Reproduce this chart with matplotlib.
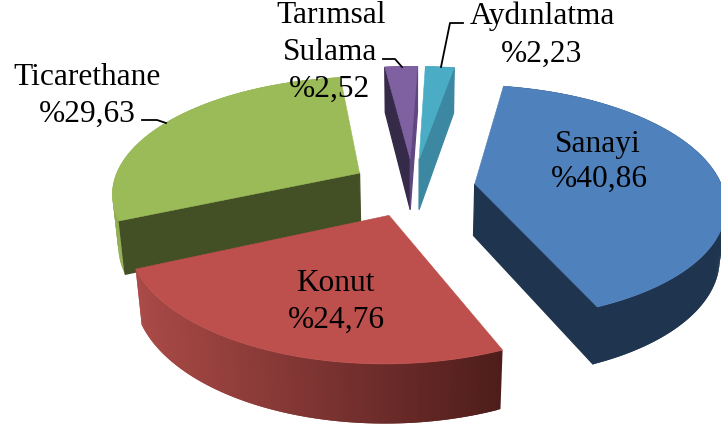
import numpy as np
import matplotlib
matplotlib.use("Agg")
import matplotlib.pyplot as plt
from matplotlib.colors import to_rgb

# ---- data ----
categories = ["Sanayi", "Konut", "Ticarethane", "Tarımsal\nSulama", "Aydınlatma"]
values = [40.86, 24.76, 29.63, 2.52, 2.23]
value_labels = ["%40,86", "%24,76", "%29,63", "%2,52", "%2,23"]

# ---- styles: top, wall, rim (left/right ends of a horizontal shade) ----
top_colors = ["#4f81bd", "#bd4f4c", "#9bbb59", "#7f60a1", "#4bacc6"]
wall_start = ["#1f344e", "#7a2f2d", "#434f25", "#352a48", "#3c87a1"]
wall_end = ["#1f344e", "#7a2f2d", "#434f25", "#5f4780", "#3c87a1"]
rim_left = ["#1f344e", "#aa4a47", "#92ae55", "#5f4780", "#3c87a1"]
rim_right = ["#1f344e", "#4e1d1b", "#8aa650", "#5f4780", "#3c87a1"]

# ---- 3D pie camera ----
X0, Y0, F, EL, D, H, EXPL, ROT = (412.906, 187.214, 1398.674, 0.48516,
                                  5.64992, 0.24112, 0.25252, 0.17385)
CAM_X, CAM_Y = 0.0, D * np.cos(EL)


def project(X, Y, Z):
    up = Z * np.cos(EL) - Y * np.sin(EL)
    depth = D - (Y * np.cos(EL) + Z * np.sin(EL))
    return X0 + F * X / depth, Y0 - F * up / depth


fig = plt.figure(figsize=(7.21, 4.29), dpi=100)
ax = fig.add_axes([0, 0, 1, 1])
ax.set_xlim(0, 721)
ax.set_ylim(429, 0)
ax.axis("off")

edges = np.cumsum(np.r_[0, values]) / np.sum(values) * 2 * np.pi + ROT


def poly(xs, ys, color, z, lw=0.4):
    ax.fill(xs, ys, facecolor=color, edgecolor=color if lw else "none", linewidth=lw, zorder=z)


for z, i in enumerate([4, 3, 2, 0, 1]):
    a, b = edges[i], edges[i + 1]
    m = (a + b) / 2
    ox, oy = EXPL * np.sin(m), -EXPL * np.cos(m)
    th = np.linspace(a, b, 160)
    rx, ry = ox + np.sin(th), oy - np.cos(th)
    base = z * 10

    # outer rim, shaded left to right
    tx, ty = project(rx, ry, 0.0)
    bx, by = project(rx, ry, -H)
    cl, cr = np.array(to_rgb(rim_left[i])), np.array(to_rgb(rim_right[i]))
    lo, hi = min(tx.min(), bx.min()), max(tx.max(), bx.max())
    for k in range(len(rx) - 1):
        n = min(k + 2, len(rx) - 1)
        u = ((tx[k] + tx[k + 1]) / 2 - lo) / max(hi - lo, 1)
        poly([tx[k], tx[n], bx[n], bx[k]], [ty[k], ty[n], by[n], by[k]],
             tuple(cl + (cr - cl) * u), base + 1, lw=0)

    # cut walls facing the camera
    for end, angle, sign, col in ((0, a, -1, wall_start[i]), (-1, b, 1, wall_end[i])):
        nx, ny = sign * np.cos(angle), sign * np.sin(angle)
        if nx * (CAM_X - ox) + ny * (CAM_Y - oy) <= 0:
            continue
        px, py = np.array([ox, rx[end]]), np.array([oy, ry[end]])
        wx, wy = project(px, py, 0.0)
        vx, vy = project(px, py, -H)
        poly([wx[0], wx[1], vx[1], vx[0]], [wy[0], wy[1], vy[1], vy[0]], col, base + 2, lw=0.9)

    # top face
    ax_, ay_ = project(ox, oy, 0.0)
    poly(np.r_[ax_, tx], np.r_[ay_, ty], top_colors[i], base + 3)

# ---- text ----
font = dict(family="Liberation Serif", fontsize=22.6, ha="center", va="baseline",
            color="black", zorder=100)
ax.text(598, 152, categories[0], **font)
ax.text(599, 187, value_labels[0], **font)
ax.text(335, 291, categories[1], **font)
ax.text(336, 328, value_labels[1], **font)
ax.text(87, 85, categories[2], **font)
ax.text(87, 122, value_labels[2], **font)
cat3 = categories[3].split("\n")
ax.text(331, 23, cat3[0], **font)
ax.text(330, 60, cat3[1], **font)
ax.text(330, 97, value_labels[3], **font)
ax.text(542, 24, categories[4], **font)
ax.text(542, 62, value_labels[4], **font)

# ---- leader lines ----
leaders = [([142, 157, 166], [120, 120, 123]),
           ([383, 395, 402], [59, 59, 67]),
           ([463, 450, 441], [23, 23, 67])]
for lx, ly in leaders:
    ax.plot(lx, ly, color="black", lw=1.3, zorder=99, solid_joinstyle="round")

fig.savefig("out.png", dpi=100)
